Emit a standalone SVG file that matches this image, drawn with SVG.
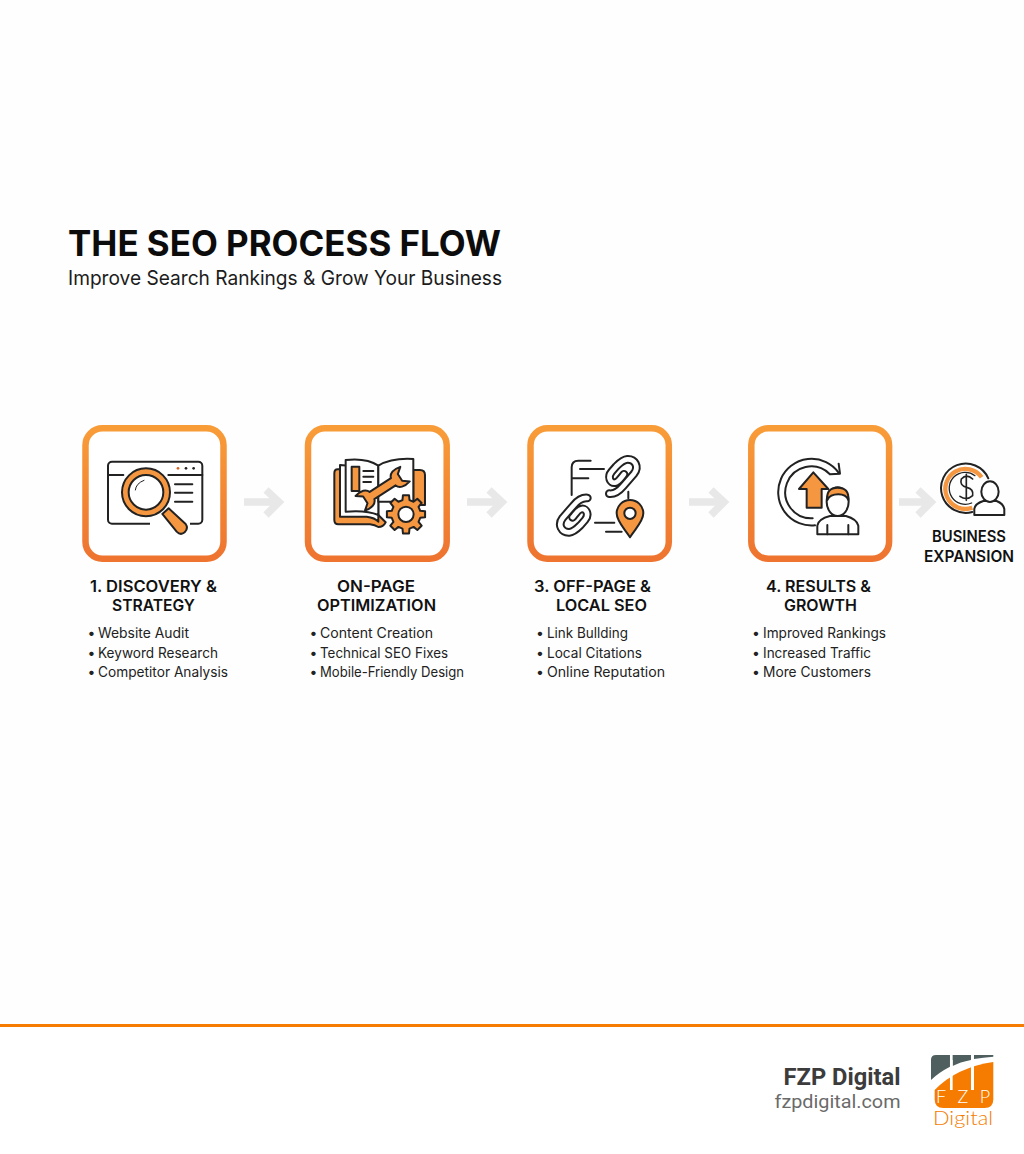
<svg xmlns="http://www.w3.org/2000/svg" width="1024" height="1154" viewBox="0 0 1024 1154">
<defs>
<linearGradient id="bd" x1="0" y1="0" x2="0" y2="1"><stop offset="0" stop-color="#F89C38"/><stop offset="1" stop-color="#EE7430"/></linearGradient>
<path id="linkPath" d="M268 236C288 238 300 225 310 213L342 176C358 155 345 132 322 133C308 134 298 145 288 155L275 170C262 185 270 205 285 203C295 202 302 190 312 178"/>
</defs>
<style>
.box{fill:#fff;stroke:url(#bd);stroke-width:6.5}
.ln{fill:none;stroke:#222;stroke-width:6;stroke-linecap:round;stroke-linejoin:round}
.of{fill:#F59640;stroke:#222;stroke-width:6;stroke-linejoin:round}
.wf{fill:#fff;stroke:#222;stroke-width:6;stroke-linejoin:round}
.arw{fill:none;stroke:#E8E8E8;stroke-width:7.5}
.lo{fill:none;stroke:#222;stroke-width:26;stroke-linecap:round;stroke-linejoin:round}
.li{fill:none;stroke:#fff;stroke-width:14;stroke-linecap:round;stroke-linejoin:round}
.h{font-family:"Inter","Liberation Sans",sans-serif;font-weight:600;font-size:16px;fill:#111}
.b{font-family:"Inter","Liberation Sans",sans-serif;font-weight:400;font-size:14px;fill:#222}
</style>
<rect width="1024" height="1154" fill="#FEFEFE"/>
<g id="title">
<text x="68" y="256" textLength="433" lengthAdjust="spacingAndGlyphs" font-family="Inter,'Liberation Sans',sans-serif" font-weight="700" font-size="35" fill="#0c0c0c">THE SEO PROCESS FLOW</text>
<text x="68" y="285" textLength="434" lengthAdjust="spacingAndGlyphs" font-family="Inter,'Liberation Sans',sans-serif" font-weight="400" font-size="20" fill="#1c1c1c">Improve Search Rankings &amp; Grow Your Business</text>
</g>
<g id="connectors">
<path class="arw" d="M244 502H278M266 490L279 502L266 515"/>
<path class="arw" d="M467 502H501M489 490L502 502L489 515"/>
<path class="arw" d="M689 502H723M711 490L724 502L711 515"/>
<path class="arw" d="M899 502H929M918 490L931 502L918 515"/>
</g>
<g id="step1">
<rect class="box" x="85.5" y="428.3" width="138" height="130.5" rx="17"/>
<g transform="translate(70 415) scale(.3333)">
<rect class="ln" x="114" y="140" width="283" height="186" rx="12"/>
<path class="ln" d="M114 180H160M295 180H397M315 208H367M315 233H367M315 260H367"/>
<circle cx="324" cy="160" r="4" fill="#D9631E"/><circle cx="348" cy="160" r="4" fill="#222"/><circle cx="371" cy="160" r="4" fill="#222"/>
<path d="M240 333H360V318H240Z" fill="#fff"/>
<path class="of" d="M277 297L296 280L347 327Q356 340 344 352Q332 362 320 350Z"/>
<circle class="of" cx="228" cy="232" r="72"/>
<circle class="wf" cx="228" cy="232" r="52"/>
<path class="ln" style="stroke-width:3" d="M196 225Q198 205 222 196"/>
</g>
</g>
<g id="step2">
<rect class="box" x="308" y="428.3" width="138.7" height="130.5" rx="17"/>
<g transform="translate(295 415) scale(.3333)">
<path class="of" d="M150 163H128Q118 163 118 175V315Q118 328 130 328H225Q240 330 250 336Q265 336 272 322L250 300Z"/>
<path class="of" d="M355 165H375Q390 165 390 180V270H355Z"/>
<path class="wf" d="M135 150V305H215Q240 308 250 320L250 160Z"/>
<path class="wf" d="M152 135Q215 128 250 152V300Q215 285 152 290Z"/>
<path class="wf" d="M250 152Q290 128 355 132V260H250Z"/>
<rect class="of" x="170" y="155" width="23" height="73"/>
<path class="ln" d="M205 168H235M205 185H235M205 201H228"/>
<path class="of" transform="translate(263 221) rotate(-33)" d="M-38 -13H38C42 -26 58 -32 80 -26L62 -12L62 12L80 26C58 32 42 26 38 13H-38C-42 26 -58 32 -80 26L-62 12L-62 -12L-80 -26C-58 -32 -42 -26 -38 -13Z"/>
<g transform="translate(333 298)">
<path class="of" d="M42.7 -10.6L57.3 -9.1L57.3 9.1L42.7 10.6L37.7 22.7L46.9 34.1L34.1 46.9L22.7 37.7L10.6 42.7L9.1 57.3L-9.1 57.3L-10.6 42.7L-22.7 37.7L-34.1 46.9L-46.9 34.1L-37.7 22.7L-42.7 10.6L-57.3 9.1L-57.3 -9.1L-42.7 -10.6L-37.7 -22.7L-46.9 -34.1L-34.1 -46.9L-22.7 -37.7L-10.6 -42.7L-9.1 -57.3L9.1 -57.3L10.6 -42.7L22.7 -37.7L34.1 -46.9L46.9 -34.1L37.7 -22.7Z"/>
<circle class="wf" r="23"/>
</g>
</g>
</g>
<g id="step3">
<rect class="box" x="530.5" y="428.3" width="138.3" height="130.5" rx="17"/>
<g transform="translate(520 415) scale(.3333)">
<path class="ln" d="M212 137H175Q155 137 155 157V240M180 162H252M155 190H205M225 323H283M258 350H305M325 230V250"/>
<use href="#linkPath" class="lo"/>
<use href="#linkPath" class="li"/>
<g transform="rotate(180 235 242.5)">
<use href="#linkPath" class="lo"/>
<use href="#linkPath" class="li"/>
</g>
<path class="of" d="M330 367C315 342 290 320 290 295A40 40 0 0 1 370 295C370 320 345 342 330 367Z"/>
<circle class="wf" cx="330" cy="295" r="17"/>
</g>
</g>
<g id="step4">
<rect class="box" x="751.3" y="428.3" width="137.8" height="130.5" rx="17"/>
<g transform="translate(740 415) scale(.3333)">
<path class="ln" d="M295 172A100 100 0 1 0 225 331"/>
<path class="ln" d="M268 176A78 78 0 1 0 218 310"/>
<path class="ln" d="M296 146L300 176L270 178"/>
<path class="of" d="M220 172L265 222H245V278H200V222H177Z"/>
<path class="wf" d="M232 358V332Q235 312 270 303H318Q350 312 355 332V358Z"/>
<path class="ln" d="M262 330V358M325 330V358"/>
<ellipse class="wf" cx="293" cy="260" rx="33" ry="43"/>
<path class="of" d="M262 255Q258 218 293 218Q328 218 325 255Q318 238 295 238Q270 238 262 255Z"/>
</g>
</g>
<g id="expansion">
<g transform="translate(740 415) scale(.3333)">
<path d="M697 278A60 60 0 1 1 725 187" fill="none" stroke="#F59640" stroke-width="13"/>
<path class="ln" d="M745 190A74 74 0 1 0 697 291"/>
<path class="ln" style="stroke-width:4" d="M695 264A48 48 0 1 1 705 182"/>
<path class="ln" style="stroke-width:5" d="M698 192Q680 175 664 192Q658 212 680 217Q702 222 698 242Q680 258 660 244M679 178V256"/>
<path class="wf" d="M703 300V282Q705 266 730 258H770Q790 266 793 282V300Z"/>
<ellipse class="wf" cx="750" cy="230" rx="26" ry="31"/>
</g>
<text class="h" x="932" y="542" textLength="74" lengthAdjust="spacingAndGlyphs">BUSINESS</text>
<text class="h" x="924" y="562" textLength="90" lengthAdjust="spacingAndGlyphs">EXPANSION</text>
</g>
<g id="labels">
<text class="h" x="90" y="591.5" textLength="127" lengthAdjust="spacingAndGlyphs">1. DISCOVERY &amp;</text>
<text class="h" x="112" y="610.5" textLength="83" lengthAdjust="spacingAndGlyphs">STRATEGY</text>
<text class="b" x="87.500" y="638">•</text><text class="b" x="98" y="638" textLength="91" lengthAdjust="spacingAndGlyphs">Website Audit</text>
<text class="b" x="87.500" y="657.5">•</text><text class="b" x="98" y="657.5" textLength="120" lengthAdjust="spacingAndGlyphs">Keyword Research</text>
<text class="b" x="87.500" y="677">•</text><text class="b" x="98" y="677" textLength="130" lengthAdjust="spacingAndGlyphs">Competitor Analysis</text>
<text class="h" x="337" y="591.5" textLength="78" lengthAdjust="spacingAndGlyphs">ON-PAGE</text>
<text class="h" x="317" y="610.5" textLength="119" lengthAdjust="spacingAndGlyphs">OPTIMIZATION</text>
<text class="b" x="309.500" y="638">•</text><text class="b" x="320" y="638" textLength="113" lengthAdjust="spacingAndGlyphs">Content Creation</text>
<text class="b" x="309.500" y="657.5">•</text><text class="b" x="320" y="657.5" textLength="128" lengthAdjust="spacingAndGlyphs">Technical SEO Fixes</text>
<text class="b" x="309.500" y="677">•</text><text class="b" x="320" y="677" textLength="144" lengthAdjust="spacingAndGlyphs">Mobile-Friendly Design</text>
<text class="h" x="534" y="591.5" textLength="117" lengthAdjust="spacingAndGlyphs">3. OFF-PAGE &amp;</text>
<text class="h" x="556" y="610.5" textLength="91" lengthAdjust="spacingAndGlyphs">LOCAL SEO</text>
<text class="b" x="536" y="638">•</text><text class="b" x="547" y="638" textLength="81" lengthAdjust="spacingAndGlyphs">Link Bullding</text>
<text class="b" x="536" y="657.5">•</text><text class="b" x="547" y="657.5" textLength="95" lengthAdjust="spacingAndGlyphs">Local Citations</text>
<text class="b" x="536" y="677">•</text><text class="b" x="547" y="677" textLength="118" lengthAdjust="spacingAndGlyphs">Online Reputation</text>
<text class="h" x="766" y="591.5" textLength="105" lengthAdjust="spacingAndGlyphs">4. RESULTS &amp;</text>
<text class="h" x="784" y="610.5" textLength="73" lengthAdjust="spacingAndGlyphs">GROWTH</text>
<text class="b" x="752" y="638">•</text><text class="b" x="763" y="638" textLength="123" lengthAdjust="spacingAndGlyphs">Improved Rankings</text>
<text class="b" x="752" y="657.5">•</text><text class="b" x="763" y="657.5" textLength="108" lengthAdjust="spacingAndGlyphs">Increased Traffic</text>
<text class="b" x="752" y="677">•</text><text class="b" x="763" y="677" textLength="108" lengthAdjust="spacingAndGlyphs">More Customers</text>
</g>
<g id="footer">
<rect y="1024" width="1024" height="3" fill="#F57C00"/>
<rect y="1027" width="1024" height="127" fill="#fff"/>
<text x="783.500" y="1084.500" textLength="117" lengthAdjust="spacingAndGlyphs" font-family="Roboto,'Liberation Sans',sans-serif" font-weight="700" font-size="23" fill="#3c3c3c">FZP Digital</text>
<text x="774.500" y="1107.500" textLength="126" lengthAdjust="spacingAndGlyphs" font-family="Roboto,'Liberation Sans',sans-serif" font-weight="400" font-size="19" fill="#6a6a6a">fzpdigital.com</text>
<g transform="translate(760 1040) scale(.3333)">
<path fill="#4F5F5F" d="M513 60Q513 45 528 45H570V80Q535 98 513 120Z"/>
<path fill="#4F5F5F" d="M578 45H633V60Q600 66 578 78Z"/>
<path fill="#4F5F5F" d="M642 45H700V50Q670 52 642 57Z"/>
<path fill="#F57C00" d="M524 150Q590 82 700 66V178Q700 204 674 204H550Q524 204 524 178Z"/>
<path fill="#fff" d="M570 60H578V150H570ZM633 55H642V150H633Z"/>
</g>
<g font-family="Lato,'Liberation Sans',sans-serif" font-weight="300">
<text x="941" y="1103" text-anchor="middle" font-size="18" fill="#fff">F</text>
<text x="963" y="1103" text-anchor="middle" font-size="18" fill="#fff">Z</text>
<text x="985" y="1103" text-anchor="middle" font-size="18" fill="#fff">P</text>
<text x="933" y="1125" textLength="60" lengthAdjust="spacingAndGlyphs" font-size="20" fill="#F57C00">Digital</text>
</g>
</g>
</svg>
